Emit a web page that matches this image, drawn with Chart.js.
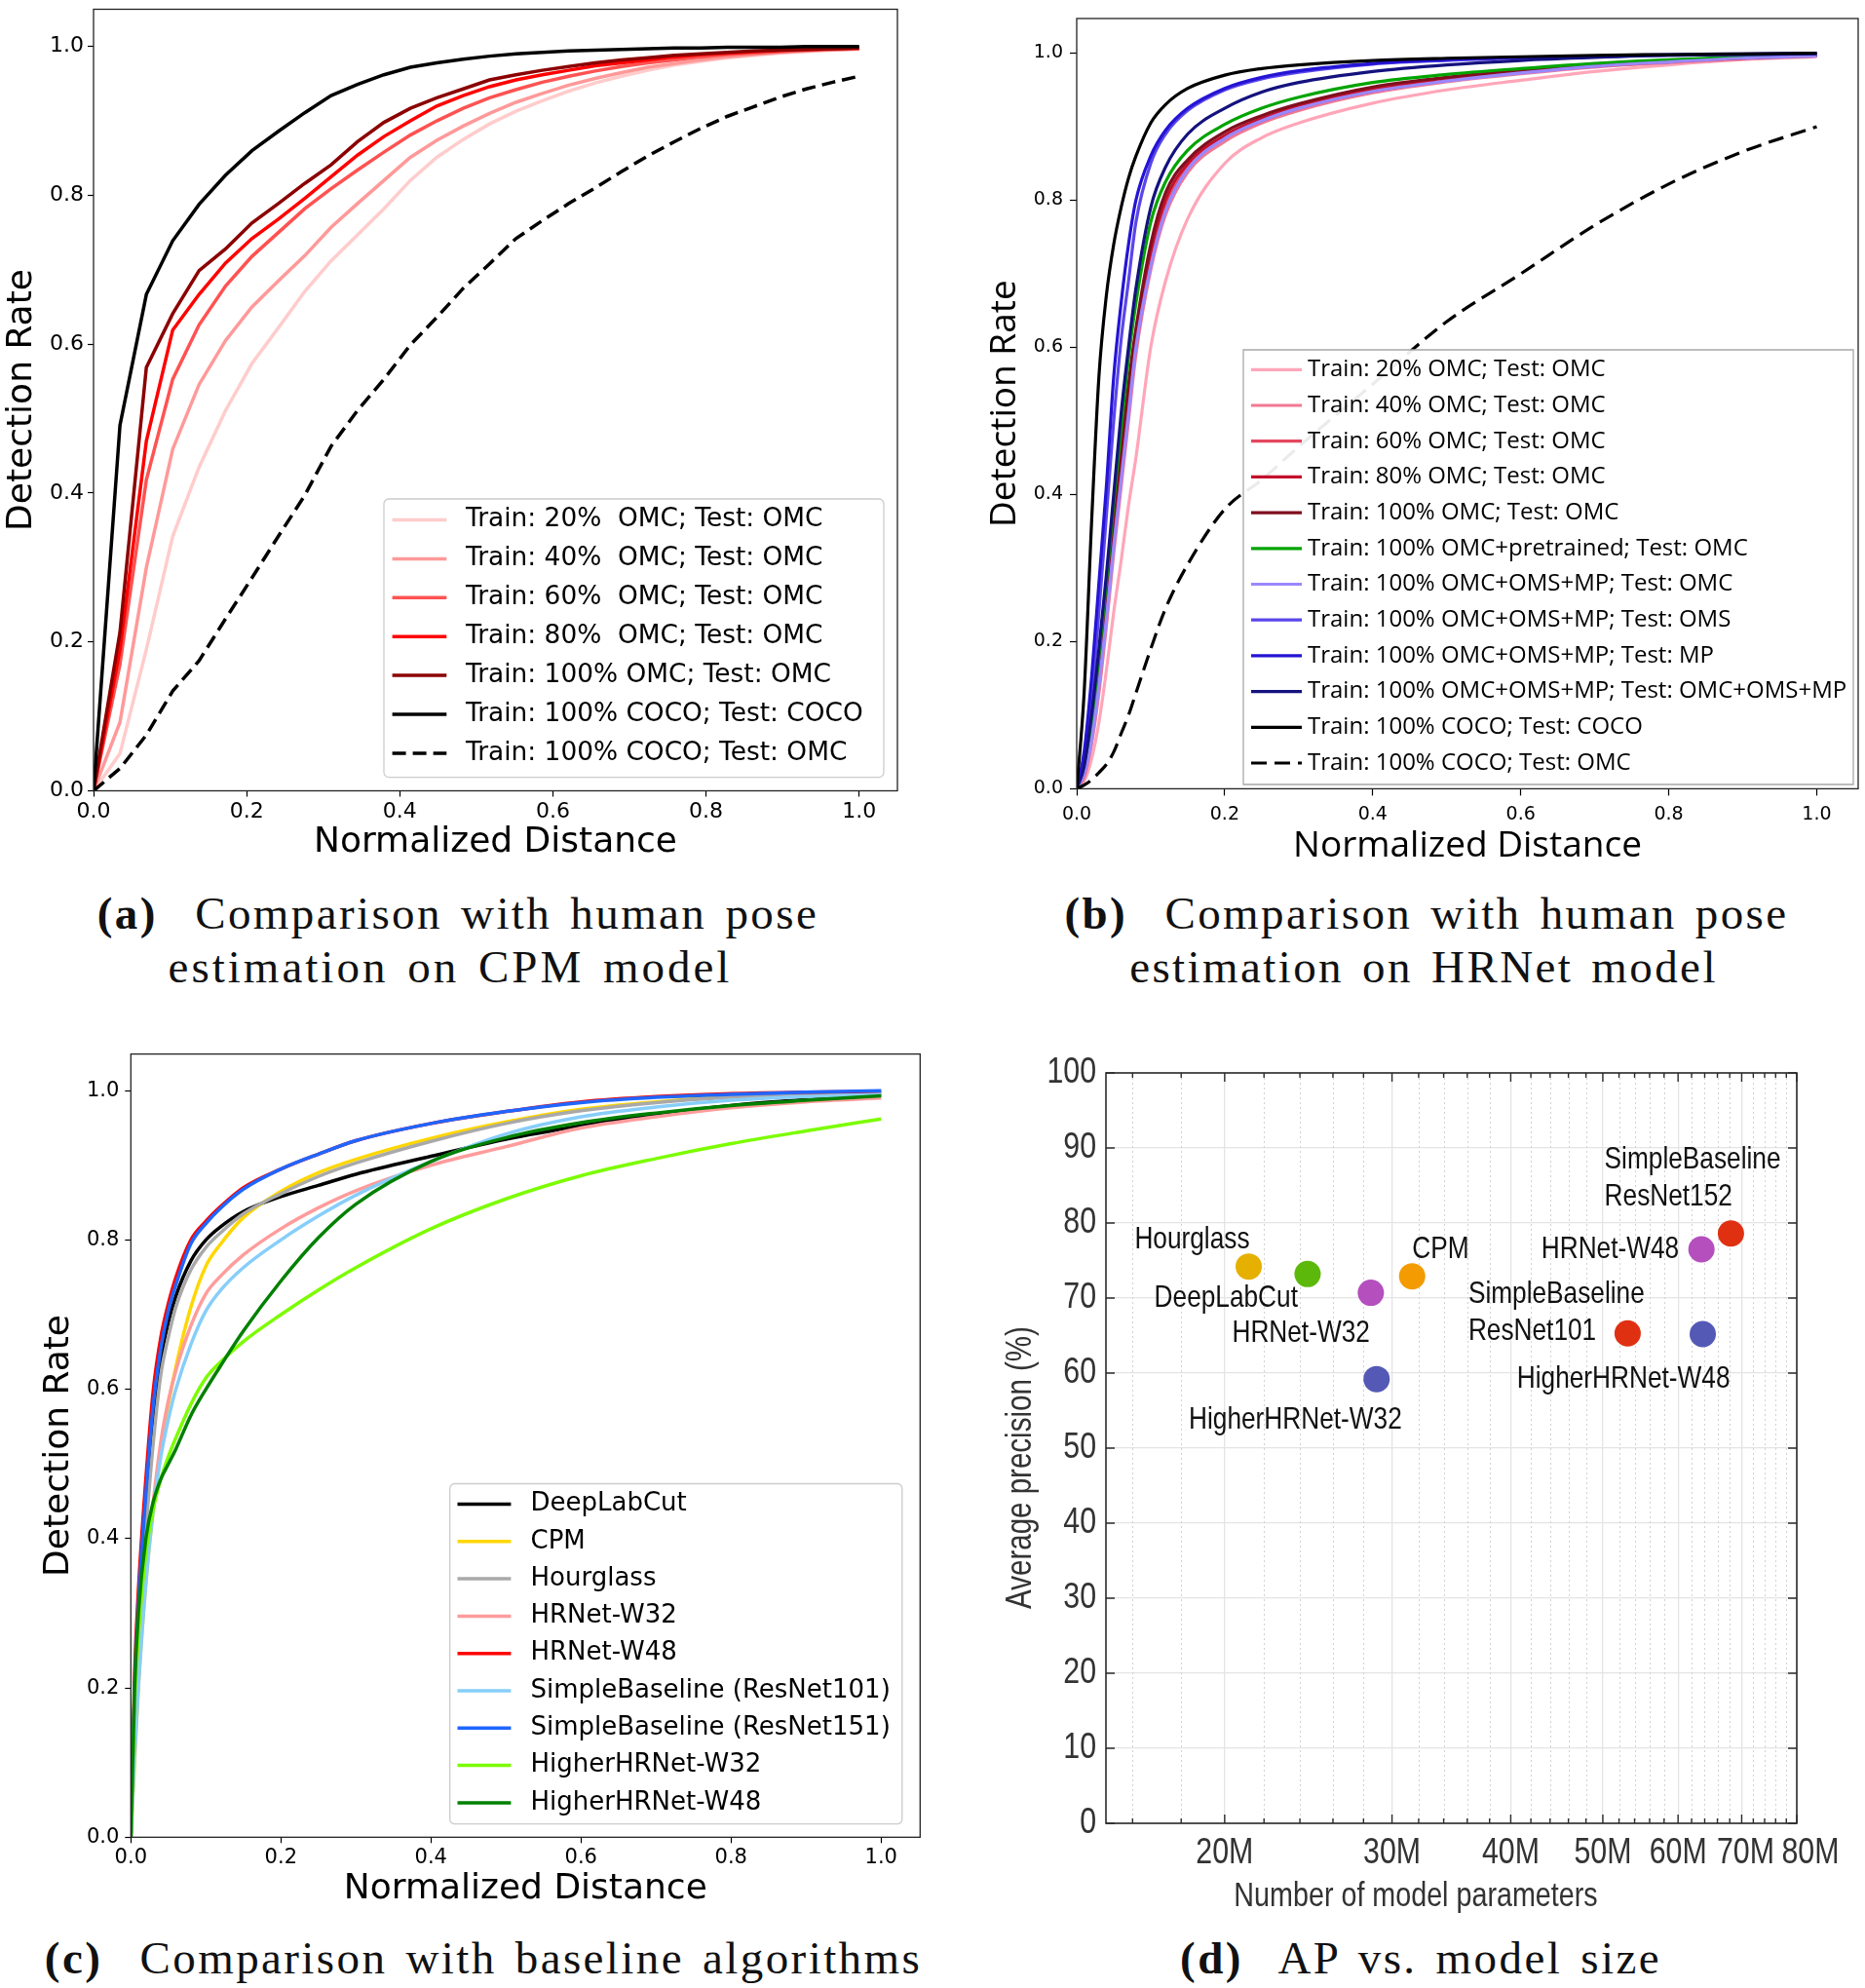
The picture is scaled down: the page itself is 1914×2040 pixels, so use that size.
<!DOCTYPE html>
<html>
<head>
<meta charset="utf-8">
<script src="https://cdn.jsdelivr.net/npm/chart.js@4.4.1/dist/chart.umd.min.js"></script>
<style>
  body { margin: 0; background: #fff; width: 1914px; height: 2040px; position: relative; overflow: hidden; }
  canvas { position: absolute; }
  .cap { position: absolute; font-family: "Liberation Serif", serif; font-size: 47px; color: #111;
         white-space: nowrap; transform: translate(-50%, -50%); line-height: 1; letter-spacing: 2.4px; word-spacing: 5px; }
</style>
</head>
<body>
<canvas id="chartA"></canvas>
<canvas id="chartB"></canvas>
<canvas id="chartC"></canvas>
<canvas id="chartD"></canvas>
<div class="cap" style="left:470px;top:937px"><b>(a)</b>&nbsp; Comparison with human pose</div>
<div class="cap" style="left:462px;top:992px;letter-spacing:3px">estimation on CPM model</div>
<div class="cap" style="left:1464px;top:937px"><b>(b)</b>&nbsp; Comparison with human pose</div>
<div class="cap" style="left:1461px;top:992px">estimation on HRNet model</div>
<div class="cap" style="left:496px;top:2009px"><b>(c)</b>&nbsp; Comparison with baseline algorithms</div>
<div class="cap" style="left:1458px;top:2009px"><b>(d)</b>&nbsp; AP vs. model size</div>
<script>
// ---- (a) CPM model ----
const xA = [0, 0.0345, 0.069, 0.1034, 0.1379, 0.1724, 0.2069, 0.2414, 0.2759, 0.3103,
            0.3448, 0.3793, 0.4138, 0.4483, 0.4828, 0.5172, 0.5517, 0.5862, 0.6207, 0.6552,
            0.6897, 0.7241, 0.7586, 0.7931, 0.8276, 0.8621, 0.8966, 0.931, 0.9655, 1.0];
const a20 = [0, 0.05, 0.19, 0.342, 0.435, 0.511, 0.574, 0.622, 0.671, 0.712, 0.747, 0.782, 0.820, 0.851, 0.875,
             0.896, 0.913, 0.927, 0.940, 0.951, 0.960, 0.968, 0.975, 0.980, 0.985, 0.988, 0.991, 0.993, 0.995, 0.996];
const a40 = [0, 0.092, 0.300, 0.459, 0.546, 0.605, 0.650, 0.685, 0.719, 0.757, 0.789, 0.820, 0.851, 0.874, 0.893,
             0.910, 0.925, 0.937, 0.948, 0.957, 0.965, 0.972, 0.977, 0.982, 0.986, 0.989, 0.992, 0.994, 0.996, 0.997];
const a60 = [0, 0.17, 0.418, 0.553, 0.626, 0.678, 0.718, 0.750, 0.782, 0.809, 0.834, 0.858, 0.881, 0.900, 0.917,
             0.931, 0.942, 0.952, 0.960, 0.967, 0.973, 0.978, 0.982, 0.986, 0.989, 0.991, 0.993, 0.995, 0.996, 0.997];
const a80 = [0, 0.19, 0.47, 0.619, 0.667, 0.709, 0.742, 0.768, 0.796, 0.825, 0.854, 0.879, 0.900, 0.920, 0.934,
             0.946, 0.955, 0.962, 0.968, 0.974, 0.978, 0.982, 0.986, 0.989, 0.991, 0.993, 0.995, 0.996, 0.997, 0.998];
const a100 = [0, 0.213, 0.569, 0.641, 0.699, 0.728, 0.763, 0.789, 0.816, 0.841, 0.872, 0.898, 0.917, 0.931, 0.943,
              0.955, 0.962, 0.968, 0.973, 0.978, 0.982, 0.985, 0.988, 0.990, 0.992, 0.994, 0.995, 0.996, 0.997, 0.998];
const aCoco = [0, 0.491, 0.667, 0.739, 0.788, 0.827, 0.860, 0.886, 0.911, 0.934, 0.949, 0.962, 0.972, 0.978, 0.983,
               0.987, 0.990, 0.992, 0.994, 0.995, 0.996, 0.997, 0.998, 0.998, 0.999, 0.999, 0.999, 1.0, 1.0, 1.0];
const aCocoOmc = [0, 0.030, 0.075, 0.134, 0.175, 0.231, 0.286, 0.342, 0.397, 0.463, 0.511, 0.553, 0.599, 0.636, 0.675,
                  0.708, 0.742, 0.766, 0.789, 0.81, 0.832, 0.853, 0.872, 0.89, 0.906, 0.919, 0.932, 0.943, 0.952, 0.960];
const labelsA = ['Train: 20%  OMC; Test: OMC', 'Train: 40%  OMC; Test: OMC', 'Train: 60%  OMC; Test: OMC',
                 'Train: 80%  OMC; Test: OMC', 'Train: 100% OMC; Test: OMC', 'Train: 100% COCO; Test: COCO',
                 'Train: 100% COCO; Test: OMC'];

// ---- (b) HRNet model ----
const xB = [0, 0.01, 0.02, 0.03, 0.04, 0.05, 0.06, 0.07, 0.08, 0.1, 0.12, 0.15, 0.2, 0.25, 0.3, 0.4, 0.5, 0.6, 0.7, 0.8, 0.9, 1.0];
const b20 = [0, 0.01, 0.04, 0.09, 0.16, 0.24, 0.31, 0.385, 0.45, 0.6, 0.69, 0.775, 0.85, 0.885, 0.905, 0.932, 0.95, 0.963, 0.975, 0.984, 0.991, 0.995];
const b40 = [0, 0.015, 0.06, 0.13, 0.22, 0.32, 0.41, 0.50, 0.59, 0.705, 0.78, 0.838, 0.88, 0.905, 0.922, 0.946, 0.961, 0.972, 0.981, 0.987, 0.992, 0.996];
const b60 = [0, 0.02, 0.07, 0.15, 0.25, 0.35, 0.44, 0.53, 0.60, 0.72, 0.79, 0.845, 0.885, 0.908, 0.925, 0.948, 0.963, 0.974, 0.982, 0.988, 0.993, 0.996];
const b80 = [0, 0.022, 0.075, 0.16, 0.26, 0.36, 0.45, 0.54, 0.615, 0.73, 0.80, 0.85, 0.888, 0.911, 0.928, 0.951, 0.965, 0.975, 0.983, 0.989, 0.993, 0.997];
const b100 = [0, 0.025, 0.08, 0.17, 0.27, 0.37, 0.46, 0.55, 0.625, 0.74, 0.81, 0.855, 0.893, 0.915, 0.931, 0.954, 0.967, 0.977, 0.985, 0.99, 0.994, 0.997];
const bPre = [0, 0.03, 0.09, 0.18, 0.28, 0.39, 0.49, 0.585, 0.66, 0.77, 0.825, 0.868, 0.903, 0.925, 0.94, 0.96, 0.971, 0.979, 0.986, 0.991, 0.995, 0.998];
const bAllOmc = [0, 0.02, 0.065, 0.14, 0.23, 0.33, 0.42, 0.51, 0.60, 0.71, 0.785, 0.842, 0.884, 0.908, 0.925, 0.948, 0.962, 0.973, 0.982, 0.988, 0.993, 0.996];
const bAllOms = [0, 0.04, 0.12, 0.24, 0.37, 0.5, 0.61, 0.69, 0.77, 0.85, 0.89, 0.922, 0.95, 0.965, 0.974, 0.985, 0.99, 0.993, 0.995, 0.997, 0.998, 0.999];
const bAllMp = [0, 0.05, 0.15, 0.28, 0.41, 0.56, 0.66, 0.74, 0.80, 0.86, 0.895, 0.925, 0.952, 0.967, 0.976, 0.986, 0.991, 0.994, 0.996, 0.998, 0.999, 1.0];
const bAllAll = [0, 0.03, 0.1, 0.19, 0.29, 0.4, 0.51, 0.6, 0.68, 0.79, 0.845, 0.89, 0.925, 0.947, 0.96, 0.975, 0.984, 0.99, 0.994, 0.997, 0.998, 0.999];
const bCoco = [0, 0.13, 0.36, 0.56, 0.67, 0.74, 0.79, 0.83, 0.86, 0.905, 0.93, 0.952, 0.97, 0.979, 0.984, 0.99, 0.993, 0.995, 0.997, 0.998, 0.999, 1.0];
const bCocoOmc = [0, 0.005, 0.012, 0.022, 0.033, 0.05, 0.075, 0.1, 0.13, 0.19, 0.245, 0.305, 0.38, 0.42, 0.465, 0.55, 0.635, 0.70, 0.766, 0.822, 0.866, 0.90];
const labelsB = ['Train: 20% OMC; Test: OMC', 'Train: 40% OMC; Test: OMC', 'Train: 60% OMC; Test: OMC',
                 'Train: 80% OMC; Test: OMC', 'Train: 100% OMC; Test: OMC', 'Train: 100% OMC+pretrained; Test: OMC',
                 'Train: 100% OMC+OMS+MP; Test: OMC', 'Train: 100% OMC+OMS+MP; Test: OMS',
                 'Train: 100% OMC+OMS+MP; Test: MP', 'Train: 100% OMC+OMS+MP; Test: OMC+OMS+MP',
                 'Train: 100% COCO; Test: COCO', 'Train: 100% COCO; Test: OMC'];

// ---- (c) baseline algorithms ----
const xC = [0, 0.005, 0.01, 0.02, 0.03, 0.04, 0.05, 0.06, 0.08, 0.1, 0.12, 0.15, 0.2, 0.25, 0.3, 0.4, 0.5, 0.6, 0.7, 0.8, 0.9, 1.0];
const cDLC = [0, 0.18, 0.28, 0.43, 0.56, 0.64, 0.69, 0.725, 0.772, 0.80, 0.818, 0.838, 0.858, 0.873, 0.888, 0.912, 0.935, 0.953, 0.968, 0.98, 0.988, 0.994];
const cCPM = [0, 0.1, 0.2, 0.34, 0.44, 0.52, 0.58, 0.63, 0.71, 0.765, 0.795, 0.83, 0.865, 0.89, 0.908, 0.936, 0.958, 0.975, 0.985, 0.992, 0.996, 0.998];
const cHG = [0, 0.16, 0.26, 0.41, 0.53, 0.62, 0.67, 0.71, 0.76, 0.79, 0.81, 0.835, 0.862, 0.885, 0.903, 0.932, 0.956, 0.973, 0.984, 0.991, 0.995, 0.997];
const cHR32 = [0, 0.12, 0.21, 0.35, 0.45, 0.53, 0.585, 0.625, 0.685, 0.728, 0.752, 0.78, 0.815, 0.843, 0.866, 0.9, 0.925, 0.95, 0.965, 0.977, 0.985, 0.99];
const cHR48 = [0, 0.22, 0.33, 0.48, 0.6, 0.67, 0.715, 0.75, 0.8, 0.825, 0.845, 0.87, 0.895, 0.915, 0.933, 0.956, 0.972, 0.985, 0.992, 0.996, 0.998, 0.999];
const cSB101 = [0, 0.11, 0.2, 0.34, 0.44, 0.51, 0.56, 0.6, 0.66, 0.705, 0.733, 0.763, 0.8, 0.832, 0.86, 0.905, 0.942, 0.965, 0.978, 0.987, 0.992, 0.995];
const cSB151 = [0, 0.2, 0.31, 0.46, 0.58, 0.655, 0.705, 0.74, 0.795, 0.822, 0.843, 0.868, 0.895, 0.915, 0.933, 0.956, 0.972, 0.984, 0.991, 0.995, 0.998, 1.0];
const cHH32 = [0, 0.18, 0.27, 0.38, 0.44, 0.48, 0.51, 0.535, 0.58, 0.615, 0.637, 0.664, 0.7, 0.733, 0.763, 0.815, 0.855, 0.886, 0.909, 0.929, 0.946, 0.962];
const cHH48 = [0, 0.2, 0.3, 0.4, 0.45, 0.48, 0.5, 0.52, 0.565, 0.6, 0.632, 0.678, 0.745, 0.803, 0.848, 0.905, 0.937, 0.957, 0.97, 0.98, 0.987, 0.993];
const labelsC = ['DeepLabCut', 'CPM', 'Hourglass', 'HRNet-W32', 'HRNet-W48', 'SimpleBaseline (ResNet101)',
                 'SimpleBaseline (ResNet151)', 'HigherHRNet-W32', 'HigherHRNet-W48'];

// ---- (d) AP vs model size ----
const dNames = ['Hourglass', 'DeepLabCut', 'HRNet-W32', 'HigherHRNet-W32', 'CPM',
                'SimpleBaseline ResNet101', 'HigherHRNet-W48', 'HRNet-W48', 'SimpleBaseline ResNet152'];
const dParams = [21.2, 24.45, 28.5, 28.9, 31.5, 53.1, 63.7, 63.5, 68.2];   // millions
const dAP = [74.2, 73.2, 70.7, 59.2, 72.9, 65.3, 65.2, 76.5, 78.6];
const dMajorTicks = [20, 30, 40, 50, 60, 70, 80];
const dMinorTicks = [16, 18, 22, 24, 26, 28, 32, 34, 36, 38, 42, 44, 46, 48, 52, 54, 56, 58, 62, 64, 66, 68, 72, 74, 76, 78];

// ---------- drawing helpers ----------
const decor = {
  id: 'decor',
  afterDraw(chart, args, o) {
    const ctx = chart.ctx, a = chart.chartArea;
    if (o.legend) drawLegend(chart, o.legend, o.offset);
    if (o.frame) {
      ctx.save();
      ctx.strokeStyle = o.frame.color;
      ctx.lineWidth = o.frame.width;
      ctx.strokeRect(a.left, a.top, a.right - a.left, a.bottom - a.top);
      ctx.restore();
    }
  }
};

function drawLegend(chart, L, off) {
  const ctx = chart.ctx;
  const x0 = L.box[0] - off[0], y0 = L.box[1] - off[1];
  const w = L.box[2] - L.box[0], h = L.box[3] - L.box[1];
  ctx.save();
  ctx.beginPath();
  if (L.radius && ctx.roundRect) ctx.roundRect(x0, y0, w, h, L.radius); else ctx.rect(x0, y0, w, h);
  ctx.fillStyle = 'rgba(255,255,255,0.92)';
  ctx.fill();
  ctx.strokeStyle = L.border;
  ctx.lineWidth = 1.3;
  ctx.stroke();
  ctx.font = L.font;
  ctx.textBaseline = 'middle';
  chart.data.datasets.forEach((ds, i) => {
    const y = L.rowY - off[1] + i * L.rowStep;
    ctx.beginPath();
    ctx.setLineDash(ds.borderDash || []);
    ctx.strokeStyle = ds.borderColor;
    ctx.lineWidth = ds.borderWidth;
    ctx.moveTo(L.sample[0] - off[0], y);
    ctx.lineTo(L.sample[1] - off[0], y);
    ctx.stroke();
    ctx.setLineDash([]);
    ctx.fillStyle = '#000';
    ctx.fillText(ds.label, L.textX - off[0], y);
  });
  ctx.restore();
}

function place(id, off, size) {
  const c = document.getElementById(id);
  c.width = size[0]; c.height = size[1];
  c.style.left = off[0] + 'px'; c.style.top = off[1] + 'px';
  return c;
}

function noPad(s) { s.paddingTop = 0; s.paddingBottom = 0; s.paddingLeft = 0; s.paddingRight = 0; }

// off = canvas page position, size = canvas size, area = [left, top, right, bottom] of plot frame on page
function curveChart(id, off, size, area, xs, series, cfg) {
  const canvas = place(id, off, size);
  const tickFont = { family: cfg.tickFamily, size: cfg.tickSize };
  const titleFont = { family: cfg.titleFamily, size: cfg.titleSize, lineHeight: 1 };
  return new Chart(canvas, {
    type: 'line',
    data: {
      datasets: series.map((s, i) => ({
        label: s.label,
        data: xs.map((x, k) => ({ x: x, y: s.values[k] })),
        borderColor: s.color,
        borderWidth: cfg.lw,
        borderDash: s.dash || [],
        pointRadius: 0,
        fill: false,
        tension: 0,
        cubicInterpolationMode: cfg.smooth ? 'monotone' : 'default',
        order: series.length - i
      }))
    },
    options: {
      responsive: false,
      animation: false,
      events: [],
      layout: { padding: { left: 0, bottom: 0, top: area[1] - off[1], right: off[0] + size[0] - area[2] } },
      plugins: {
        legend: { display: false },
        tooltip: { enabled: false },
        decor: { offset: off, frame: { color: '#222', width: 1.3 }, legend: cfg.legend }
      },
      scales: {
        x: {
          type: 'linear', min: 0, max: cfg.xmax,
          afterFit: s => { s.height = off[1] + size[1] - area[3]; noPad(s); },
          ticks: { stepSize: 0.2, includeBounds: false, autoSkip: false, maxRotation: 0,
                   callback: v => v.toFixed(1), font: tickFont, color: '#000', padding: cfg.tickPadX },
          grid: { drawOnChartArea: false, drawTicks: true, tickLength: cfg.tickLen, tickColor: '#000', tickWidth: 1.2 },
          border: { display: false },
          title: { display: true, text: 'Normalized Distance', font: titleFont, color: '#000', padding: 0 }
        },
        y: {
          type: 'linear', min: 0, max: cfg.ymax,
          afterFit: s => { s.width = area[0] - off[0]; noPad(s); },
          ticks: { stepSize: 0.2, includeBounds: false, autoSkip: false,
                   callback: v => v.toFixed(1), font: tickFont, color: '#000', padding: cfg.tickPadY },
          grid: { drawOnChartArea: false, drawTicks: true, tickLength: cfg.tickLen, tickColor: '#000', tickWidth: 1.2 },
          border: { display: false },
          title: { display: true, text: 'Detection Rate', font: titleFont, color: '#000', padding: 0 }
        }
      }
    },
    plugins: [decor]
  });
}

// ---------- (a) ----------
const colorsA = ['#ffcccc', '#ff9999', '#ff5252', '#ff0000', '#8b0000', '#000000', '#000000'];
curveChart('chartA', [5, 0], [935, 883], [96, 9.5, 921, 811.5], xA,
  [a20, a40, a60, a80, a100, aCoco, aCocoOmc].map((v, i) => ({
    label: labelsA[i], values: v, color: colorsA[i], dash: i === 6 ? [14, 7] : []
  })),
  { lw: 3.5, smooth: false, xmax: 1.05, ymax: 1.05, tickFamily: 'DejaVu Sans', tickSize: 22,
    titleFamily: 'DejaVu Sans', titleSize: 36, tickLen: 6, tickPadX: 3, tickPadY: 4,
    legend: { box: [394, 512, 907, 797.6], radius: 5, border: '#cccccc', rowY: 533.5, rowStep: 39.9,
              sample: [402.6, 458.3], textX: 478, font: '26.4px "DejaVu Sans"' } });

// ---------- (b) ----------
const colorsB = ['#ffa6b9', '#f27893', '#e5475f', '#c4102c', '#800f1f', '#00a400', '#9a88ff', '#5a46ea',
                 '#2414d4', '#14127e', '#000000', '#000000'];
curveChart('chartB', [1013, 0], [901, 887], [1105, 19, 1907, 809.4], xB,
  [b20, b40, b60, b80, b100, bPre, bAllOmc, bAllOms, bAllMp, bAllAll, bCoco, bCocoOmc].map((v, i) => ({
    label: labelsB[i], values: v, color: colorsB[i], dash: i === 11 ? [16, 8] : []
  })),
  { lw: 3.2, smooth: true, xmax: 1.056, ymax: 1.047, tickFamily: 'DejaVu Sans', tickSize: 19,
    titleFamily: 'Open Sans', titleSize: 37, tickLen: 7, tickPadX: 8, tickPadY: 7,
    legend: { box: [1276, 359, 1902, 805], radius: 0, border: '#a8a8a8', rowY: 379.3, rowStep: 36.7,
              sample: [1284, 1336], textX: 1342, font: '24px "Open Sans"' } });

// ---------- (c) ----------
const colorsC = ['#000000', '#ffd700', '#a9a9a9', '#ff9c9c', '#ff0000', '#87cefa', '#1f66ff', '#7cfc00', '#008000'];
curveChart('chartC', [43, 1060], [917, 897], [134.3, 1081.6, 944.3, 1885.3], xC,
  [cDLC, cCPM, cHG, cHR32, cHR48, cSB101, cSB151, cHH32, cHH48].map((v, i) => ({
    label: labelsC[i], values: v, color: colorsC[i]
  })),
  { lw: 3.5, smooth: true, xmax: 1.052, ymax: 1.049, tickFamily: 'DejaVu Sans', tickSize: 21,
    titleFamily: 'DejaVu Sans', titleSize: 36, tickLen: 6, tickPadX: 3, tickPadY: 6,
    legend: { box: [461.7, 1522.5, 925.8, 1871.7], radius: 5, border: '#cccccc', rowY: 1543.5, rowStep: 38.3,
              sample: [469.5, 524.4], textX: 544.5, font: '26px "DejaVu Sans"' } });

// ---------- (d) ----------
const colorsD = ['#e6b000', '#5cb90c', '#b54fbe', '#5459b6', '#f39b00', '#e03012', '#5459b6', '#b54fbe', '#e03012'];
// text placement next to each marker (pixel offsets from marker centre)
const labelLayoutD = [
  { align: 'right', dx: 1, dy: -27 },
  { align: 'right', dx: -10, dy: 25 },
  { align: 'right', dx: -1, dy: 42 },
  { align: 'right', dx: 26, dy: 42 },
  { align: 'left', dx: 0, dy: -27.5 },
  { align: 'left', dx: -163.5, dy: -40.4 },
  { align: 'right', dx: 28, dy: 46.6 },
  { align: 'right', dx: -23, dy: 0.6 },
  { align: 'left', dx: -129.8, dy: -75.7 }
];
const tickLabelNudgeD = [0, 0, 0, 0, 0, 4, 14];

// condensed Helvetica look: Liberation Sans squeezed horizontally
function narrowText(ctx, text, x, y, size, color, align, rotate) {
  ctx.save();
  ctx.translate(x, y);
  if (rotate) ctx.rotate(-Math.PI / 2);
  ctx.scale(0.82, 1);
  ctx.font = size + 'px "Liberation Sans", Arial, sans-serif';
  ctx.fillStyle = color;
  ctx.textAlign = align;
  ctx.textBaseline = 'middle';
  ctx.fillText(text, 0, 0);
  ctx.restore();
}

const modelPlot = {
  id: 'modelPlot',
  beforeDatasetsDraw(chart) {
    const ctx = chart.ctx, a = chart.chartArea, xs = chart.scales.x;
    ctx.save();
    ctx.strokeStyle = '#d2d2d2';
    ctx.lineWidth = 1;
    ctx.setLineDash([2, 3]);
    dMinorTicks.forEach(v => {
      const px = Math.round(xs.getPixelForValue(v)) + 0.5;
      ctx.beginPath(); ctx.moveTo(px, a.top); ctx.lineTo(px, a.bottom); ctx.stroke();
    });
    ctx.restore();
  },
  afterDatasetsDraw(chart) {
    const ctx = chart.ctx, meta = chart.getDatasetMeta(0);
    meta.data.forEach((pt, i) => {
      const L = labelLayoutD[i];
      const lines = dNames[i].startsWith('SimpleBaseline') ? ['SimpleBaseline', dNames[i].split(' ')[1]] : [dNames[i]];
      lines.forEach((t, k) => narrowText(ctx, t, pt.x + L.dx, pt.y + L.dy + k * 38, 32, '#111', L.align, false));
    });
  },
  afterDraw(chart) {
    const ctx = chart.ctx, a = chart.chartArea, xs = chart.scales.x, ys = chart.scales.y;
    ctx.save();
    ctx.strokeStyle = '#2b2b2b';
    ctx.lineWidth = 1.6;
    ctx.strokeRect(a.left, a.top, a.right - a.left, a.bottom - a.top);
    ctx.lineWidth = 1.4;
    ctx.beginPath();
    ys.ticks.forEach(t => {
      const py = ys.getPixelForValue(t.value);
      ctx.moveTo(a.left, py); ctx.lineTo(a.left + 9, py);
      ctx.moveTo(a.right, py); ctx.lineTo(a.right - 9, py);
    });
    dMajorTicks.forEach(v => {
      const px = xs.getPixelForValue(v);
      ctx.moveTo(px, a.bottom); ctx.lineTo(px, a.bottom - 9);
      ctx.moveTo(px, a.top); ctx.lineTo(px, a.top + 9);
    });
    dMinorTicks.forEach(v => {
      const px = xs.getPixelForValue(v);
      ctx.moveTo(px, a.bottom); ctx.lineTo(px, a.bottom - 5);
      ctx.moveTo(px, a.top); ctx.lineTo(px, a.top + 5);
    });
    ctx.stroke();
    ctx.restore();
    // tick labels and axis titles
    ys.ticks.forEach(t => narrowText(ctx, String(t.value), a.left - 10, ys.getPixelForValue(t.value), 37, '#333', 'right', false));
    xs.ticks.forEach((t, i) => narrowText(ctx, t.value + 'M', xs.getPixelForValue(t.value) + tickLabelNudgeD[i],
                                          a.bottom + 31, 37, '#333', 'center', false));
    narrowText(ctx, 'Number of model parameters', a.left + 318, a.bottom + 75, 35, '#333', 'center', false);
    narrowText(ctx, 'Average precision (%)', a.left - 87, a.top + 405, 36, '#333', 'center', true);
  }
};

(function () {
  const off = [1031, 1060], size = [883, 903], area = [1135, 1101, 1844, 1871];
  const canvas = place('chartD', off, size);
  new Chart(canvas, {
    type: 'scatter',
    data: {
      datasets: [{
        label: 'AP',
        data: dParams.map((p, i) => ({ x: p, y: dAP[i] })),
        pointBackgroundColor: colorsD,
        pointBorderWidth: 0,
        pointRadius: 13.5,
        pointHoverRadius: 13.5
      }]
    },
    options: {
      responsive: false,
      animation: false,
      events: [],
      layout: { padding: { left: 0, bottom: 0, top: area[1] - off[1], right: off[0] + size[0] - area[2] } },
      plugins: { legend: { display: false }, tooltip: { enabled: false } },
      scales: {
        x: {
          type: 'logarithmic', min: 15, max: 80,
          afterBuildTicks: s => { s.ticks = dMajorTicks.map(v => ({ value: v })); },
          afterFit: s => { s.height = off[1] + size[1] - area[3]; noPad(s); },
          ticks: { display: false },
          grid: { color: '#e4e4e4', lineWidth: 1.3, drawTicks: false },
          border: { display: false }
        },
        y: {
          min: 0, max: 100,
          afterFit: s => { s.width = area[0] - off[0]; noPad(s); },
          ticks: { display: false, stepSize: 10 },
          grid: { color: '#e4e4e4', lineWidth: 1.3, drawTicks: false },
          border: { display: false }
        }
      }
    },
    plugins: [modelPlot]
  });
})();
</script>
</body>
</html>
